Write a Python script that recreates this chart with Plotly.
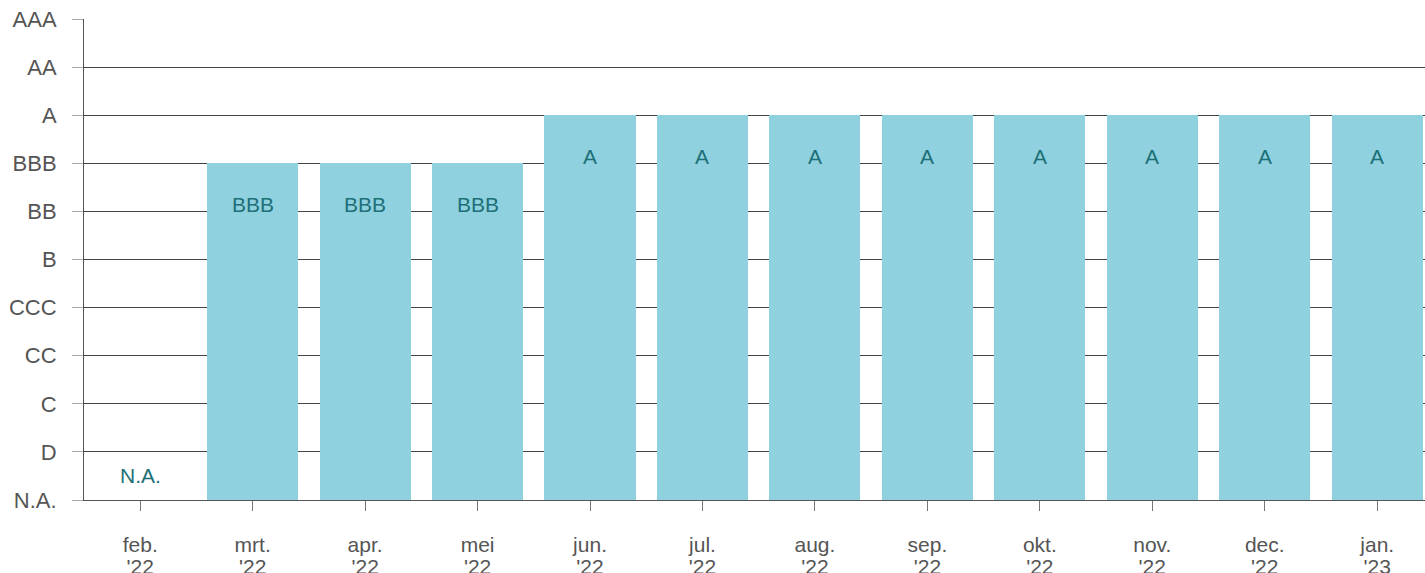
import plotly.graph_objects as go

month_names = ["feb.", "mrt.", "apr.", "mei", "jun.", "jul.", "aug.", "sep.", "okt.", "nov.", "dec.", "jan."]
years = ["'22", "'22", "'22", "'22", "'22", "'22", "'22", "'22", "'22", "'22", "'22", "'23"]
rating_levels = ["N.A.", "D", "C", "CC", "CCC", "B", "BB", "BBB", "A", "AA", "AAA"]
ratings = ["N.A.", "BBB", "BBB", "BBB", "A", "A", "A", "A", "A", "A", "A", "A"]

values = [rating_levels.index(r) for r in ratings]
xs = list(range(len(month_names)))

BAR = "#8fd1df"
LABEL = "#1d7077"
TXT = "#555555"
FONT = "Liberation Sans, Arial, sans-serif"
XRANGE = [-0.5, 11.425]

fig = go.Figure()
fig.add_trace(go.Bar(x=xs, y=values, width=0.81, marker=dict(color=BAR, line=dict(width=0)),
                     hoverinfo="skip"))
fig.add_trace(go.Scatter(x=xs, y=values, xaxis="x2", yaxis="y", mode="markers",
                         marker=dict(opacity=0), hoverinfo="skip"))

for x, v, r in zip(xs, values, ratings):
    fig.add_annotation(x=x, y=v, text=r, showarrow=False, xref="x", yref="y",
                       yshift=(-41 if v > 0 else 25),
                       font=dict(family=FONT, size=21, color=LABEL))

fig.update_layout(
    width=1425, height=573,
    margin=dict(l=84, r=0, t=19, b=73),
    plot_bgcolor="white", paper_bgcolor="white",
    showlegend=False, bargap=0,
    font=dict(family=FONT, size=22, color=TXT),
    xaxis=dict(
        range=XRANGE, tickmode="array", tickvals=xs, ticktext=month_names,
        ticks="outside", ticklen=10, tickcolor="#777777", tickwidth=1,
        ticklabelstandoff=16, automargin=False,
        showgrid=False, zeroline=False, showline=True, linecolor="#555555", linewidth=1,
        tickfont=dict(family=FONT, size=21, color=TXT), fixedrange=True,
    ),
    xaxis2=dict(
        overlaying="x", side="bottom", anchor="y",
        range=XRANGE, tickmode="array", tickvals=xs, ticktext=years,
        ticks="", ticklabelstandoff=52, automargin=False,
        showgrid=False, zeroline=False, showline=False,
        tickfont=dict(family=FONT, size=21, color=TXT), fixedrange=True,
    ),
    yaxis=dict(
        range=[0, 10.004], tickmode="array", tickvals=list(range(len(rating_levels))), ticktext=rating_levels,
        ticks="outside", ticklen=11, tickcolor="#aaaaaa", tickwidth=1,
        ticklabelstandoff=11, automargin=False,
        showgrid=True, gridcolor="#444444", gridwidth=1, zeroline=False,
        showline=True, linecolor="#555555", linewidth=1,
        tickfont=dict(family=FONT, size=22, color=TXT), fixedrange=True,
    ),
)

fig.write_html("out.html", config={"displayModeBar": False},
               post_script="document.body.style.margin='0';document.body.style.overflow='hidden';")
